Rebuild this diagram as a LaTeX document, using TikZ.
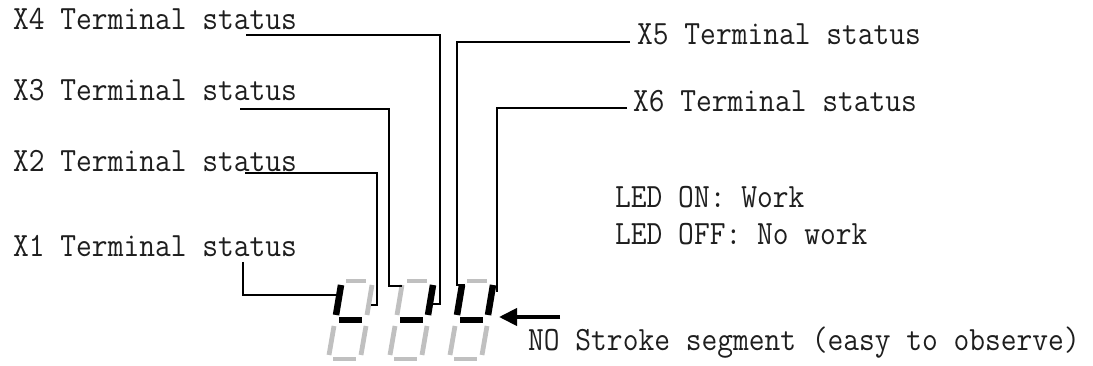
\documentclass[tikz,border=0pt]{standalone}
\usepackage{fontspec}
\newfontfamily\lblfont[FakeStretch=0.9]{Latin Modern Mono}
\usetikzlibrary{arrows.meta}
\definecolor{segGrey}{RGB}{192,192,192}
\definecolor{txtInk}{RGB}{30,30,30}
\begin{document}
\begin{tikzpicture}[x=1pt,y=-1pt,
  lbl/.style={anchor=base west,inner sep=0pt,text=txtInk,font=\lblfont\fontsize{34}{36}\selectfont},
  conn/.style={line width=2.4pt,line cap=butt,line join=miter},
  off/.style={line width=4.8pt,draw=segGrey},
  on/.style={line width=6.5pt,draw=black},
  pics/sevenseg/.style n args={7}{code={
    \draw[#1] (346,281) -- (366,281);
    \draw[#2] (341,285) -- (336,315);
    \draw[#3] (372,285) -- (367,315);
    \draw[#4] (339,320) -- (362,320);
    \draw[#5] (334,326) -- (329,355);
    \draw[#6] (366,326) -- (361,355);
    \draw[#7] (333,359) -- (356,359);
  }},
]
\useasboundingbox (0,0) rectangle (1093,366);

% labels
\node[lbl] (t4) at (13,30) {X4 Terminal status};
\node[lbl] (t3) at (13,101) {X3 Terminal status};
\node[lbl] (t2) at (13,172) {X2 Terminal status};
\node[lbl] (t1) at (13,257) {X1 Terminal status};
\node[lbl] (t5) at (637,45) {X5 Terminal status};
\node[lbl] (t6) at (633,112) {X6 Terminal status};
\node[lbl] (led1) at (615,208) {LED ON: Work};
\node[lbl] (led2) at (615,245) {LED OFF: No work};
\node[lbl] (nos) at (528,350) {NO Stroke segment (easy to observe)};

% seven segment digits
\pic at (0,0) {sevenseg={off}{on}{off}{on}{off}{off}{off}};
\pic at (61,0) {sevenseg={off}{off}{on}{on}{off}{off}{off}};
\pic at (121,0) {sevenseg={off}{on}{on}{on}{off}{off}{off}};

% connector points
\coordinate (a4) at (246,35);
\coordinate (b4) at (440,35);
\coordinate (c4) at (440,304);
\coordinate (d4) at (431,304);

\coordinate (a3) at (240,109);
\coordinate (b3) at (389,109);
\coordinate (c3) at (389,286);
\coordinate (d3) at (402,286);

\coordinate (a2) at (245,173);
\coordinate (b2) at (377,173);
\coordinate (c2) at (377,305);
\coordinate (d2) at (371,305);

\coordinate (a1) at (243,262);
\coordinate (b1) at (243,295);
\coordinate (d1) at (340,295);

\coordinate (a5) at (630,42);
\coordinate (b5) at (457,42);
\coordinate (c5) at (457,285);
\coordinate (d5) at (465,285);

\coordinate (a6) at (627,108);
\coordinate (b6) at (497,108);
\coordinate (d6) at (497,292);

\coordinate (arS) at (560,317);
\coordinate (arE) at (499,317);

\draw[conn] (a4) -- (b4) -- (c4) -- (d4);
\draw[conn] (a3) -- (b3) -- (c3) -- (d3);
\draw[conn] (a2) -- (b2) -- (c2) -- (d2);
\draw[conn] (a1) -- (b1) -- (d1);
\draw[conn] (a5) -- (b5) -- (c5) -- (d5);
\draw[conn] (a6) -- (b6) -- (d6);

\draw[line width=4pt,-{Triangle[length=18pt,width=17pt]}] (arS) -- (arE);
\end{tikzpicture}
\end{document}
